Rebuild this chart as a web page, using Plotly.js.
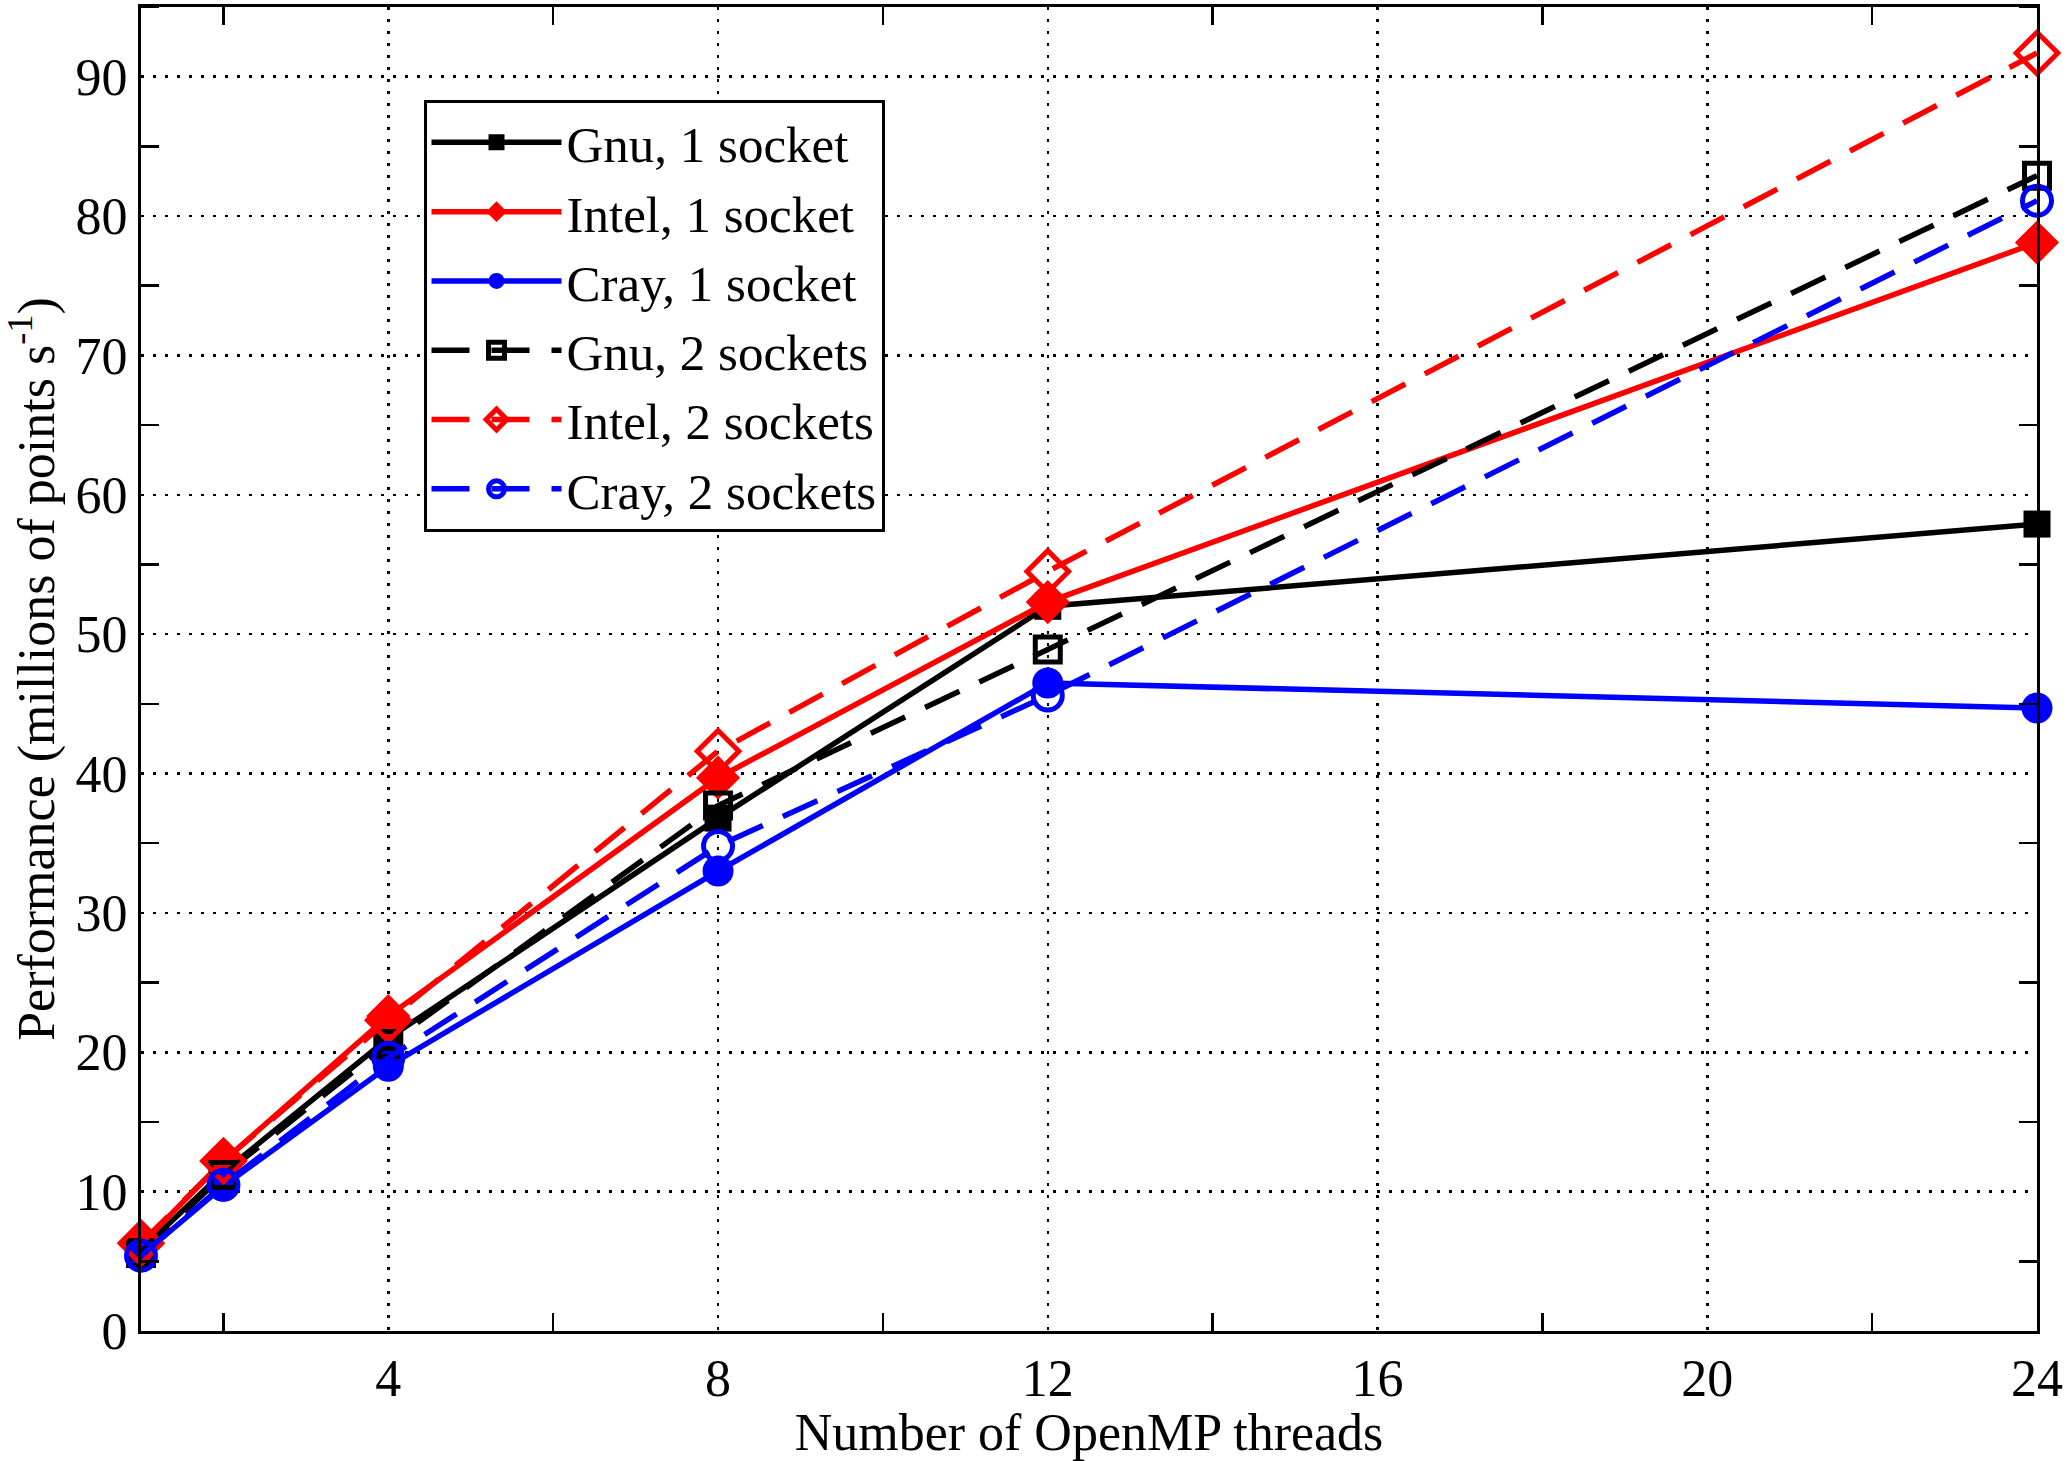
<!DOCTYPE html>
<html>
<head>
<meta charset="utf-8">
<script src="https://cdn.plot.ly/plotly-3.0.1.min.js"></script>
<style>html,body{margin:0;padding:0;background:#fff;}#chart{width:2067px;height:1461px;}</style>
</head>
<body>
<div id="chart"></div>
<script>
const threads = [1, 2, 4, 8, 12, 24];
const gnu1 = [5.8, 11.4, 21.0, 36.8, 52.0, 57.9];
const intel1 = [6.2, 12.2, 22.6, 39.7, 52.3, 78.1];
const cray1 = [5.4, 10.4, 19.0, 33.0, 46.5, 44.7];
const gnu2 = [5.6, 11.2, 20.6, 37.7, 48.9, 82.9];
const intel2 = [6.3, 12.2, 22.3, 41.6, 54.5, 91.7];
const cray2 = [5.4, 10.5, 19.6, 34.8, 45.6, 81.1];
const seriesNames = ['Gnu, 1 socket', 'Intel, 1 socket', 'Cray, 1 socket', 'Gnu, 2 sockets', 'Intel, 2 sockets', 'Cray, 2 sockets'];
const xTickVals = [4, 8, 12, 16, 20, 24];
const yTickVals = [0, 10, 20, 30, 40, 50, 60, 70, 80, 90];

const FONT = 'Liberation Serif, Times New Roman, serif';
const DASH = '38px,22px';

function tr(y, name, color, symbol, size, dash, open) {
  return {
    x: threads, y: y, name: name, type: 'scatter', mode: 'lines+markers',
    cliponaxis: false,
    line: {color: color, width: 5.5, dash: dash},
    marker: {
      symbol: symbol, size: size,
      color: color,
      line: {color: color, width: open ? 5 : 0}
    }
  };
}

const data = [
  tr(gnu1, seriesNames[0], '#000000', 'square', 27, 'solid', false),
  tr(intel1, seriesNames[1], '#ff0000', 'diamond', 34, 'solid', false),
  tr(cray1, seriesNames[2], '#0000ff', 'circle', 31, 'solid', false),
  tr(gnu2, seriesNames[3], '#000000', 'square-open', 25, DASH, true),
  tr(intel2, seriesNames[4], '#ff0000', 'diamond-open', 32, DASH, true),
  tr(cray2, seriesNames[5], '#0000ff', 'circle-open', 29, DASH, true)
];

const layout = {
  width: 2067, height: 1461,
  margin: {l: 141, r: 30, t: 7, b: 130},
  paper_bgcolor: '#fff', plot_bgcolor: '#fff',
  font: {family: FONT, size: 52, color: '#000'},
  showlegend: true,
  legend: {
    x: 0.149, y: 0.93, xanchor: 'left', yanchor: 'top',
    bgcolor: '#fff', bordercolor: '#000', borderwidth: 3,
    font: {family: FONT, size: 51, color: '#000'},
    itemwidth: 130, tracegroupgap: 0
  },
  xaxis: {
    range: [1, 24], tickmode: 'array', tickvals: xTickVals,
    ticks: '', showgrid: true, gridcolor: '#000', gridwidth: 2.5, griddash: '3px,9px',
    showline: true, linecolor: '#000', linewidth: 3, mirror: 'allticks',
    zeroline: false, tickfont: {family: FONT, size: 52},
    minor: {tick0: 2, dtick: 4, ticks: 'inside', ticklen: 18, tickwidth: 2.5, tickcolor: '#000', showgrid: false},
    title: {text: 'Number of OpenMP threads', font: {family: FONT, size: 52}, standoff: 6}
  },
  yaxis: {
    range: [0, 95], tickmode: 'array', tickvals: yTickVals,
    ticks: '', showgrid: true, gridcolor: '#000', gridwidth: 2.5, griddash: '3px,9px',
    showline: true, linecolor: '#000', linewidth: 3, mirror: 'allticks',
    zeroline: false, tickfont: {family: FONT, size: 52}, automargin: true,
    minor: {tick0: 5, dtick: 10, ticks: 'inside', ticklen: 18, tickwidth: 2.5, tickcolor: '#000', showgrid: false},
    title: {text: 'Performance (millions of points s<sup>-1</sup>)', font: {family: FONT, size: 52}, standoff: 18}
  }
};

Plotly.newPlot('chart', data, layout, {staticPlot: true, displayModeBar: false});
</script>
</body>
</html>
